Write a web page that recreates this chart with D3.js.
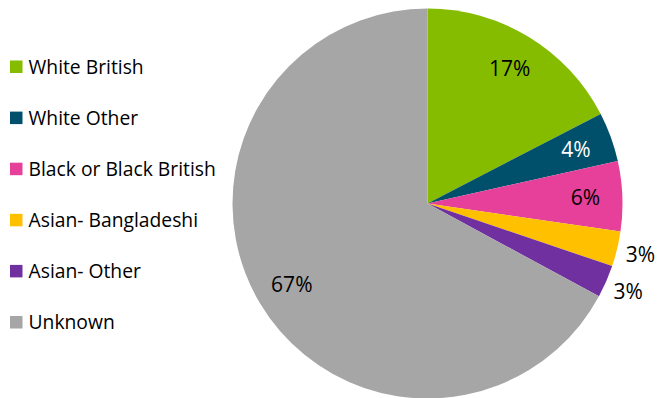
<!DOCTYPE html>
<html>
<head>
<meta charset="utf-8">
<script src="https://cdn.jsdelivr.net/npm/d3@7"></script>
<style>
  body { margin: 0; background: #fff; }
  text { font-family: "Open Sans", sans-serif; fill: #000; }
</style>
</head>
<body>
<svg id="chart"></svg>
<script>
const categories = ["White British", "White Other", "Black or Black British", "Asian- Bangladeshi", "Asian- Other", "Unknown"];
const values = [17.4, 4.1, 5.8, 2.9, 2.7, 67.1];
const colors = ["#86BC00", "#00506B", "#E6409A", "#FFC000", "#7030A0", "#A6A6A6"];
const labelColors = ["#000", "#fff", "#000", "#000", "#000", "#000"];
const outside = [false, false, false, true, true, false];

const svg = d3.select("#chart")
    .attr("width", 657)
    .attr("height", 398);

const cx = 427.5, cy = 203.5, r = 195;

const data = categories.map((c, i) => ({ name: c, value: values[i], i: i }));

const pie = d3.pie()
    .sort(null)
    .value(d => d.value);

const arc = d3.arc().innerRadius(0).outerRadius(r);
const inLabel = d3.arc().innerRadius(r * 0.81).outerRadius(r * 0.81);
const outLabel = d3.arc().innerRadius(r + 24).outerRadius(r + 24);

const g = svg.append("g").attr("transform", `translate(${cx},${cy})`);
const arcs = pie(data);

g.selectAll("path")
    .data(arcs)
    .enter().append("path")
    .attr("d", arc)
    .attr("fill", d => colors[d.data.i]);

g.selectAll(".lbl")
    .data(arcs)
    .enter().append("text")
    .attr("class", "lbl")
    .attr("transform", d => `translate(${(outside[d.data.i] ? outLabel : inLabel).centroid(d)})`)
    .attr("text-anchor", "middle")
    .attr("dy", "0.36em")
    .style("font-size", "21px")
    .style("fill", d => labelColors[d.data.i])
    .text(d => Math.round(d.data.value) + "%");

// legend
const legend = svg.append("g");
const rowY = d3.scalePoint()
    .domain(categories)
    .range([67, 322.5]);

const item = legend.selectAll(".item")
    .data(categories)
    .enter().append("g")
    .attr("class", "item")
    .attr("transform", d => `translate(0,${rowY(d)})`);

item.append("rect")
    .attr("x", 10)
    .attr("y", -6.5)
    .attr("width", 12.5)
    .attr("height", 12.5)
    .attr("fill", (d, i) => colors[i]);

item.append("text")
    .attr("x", 28.5)
    .attr("dy", "0.36em")
    .style("font-size", "19.3px")
    .text(d => d);
</script>
</body>
</html>
